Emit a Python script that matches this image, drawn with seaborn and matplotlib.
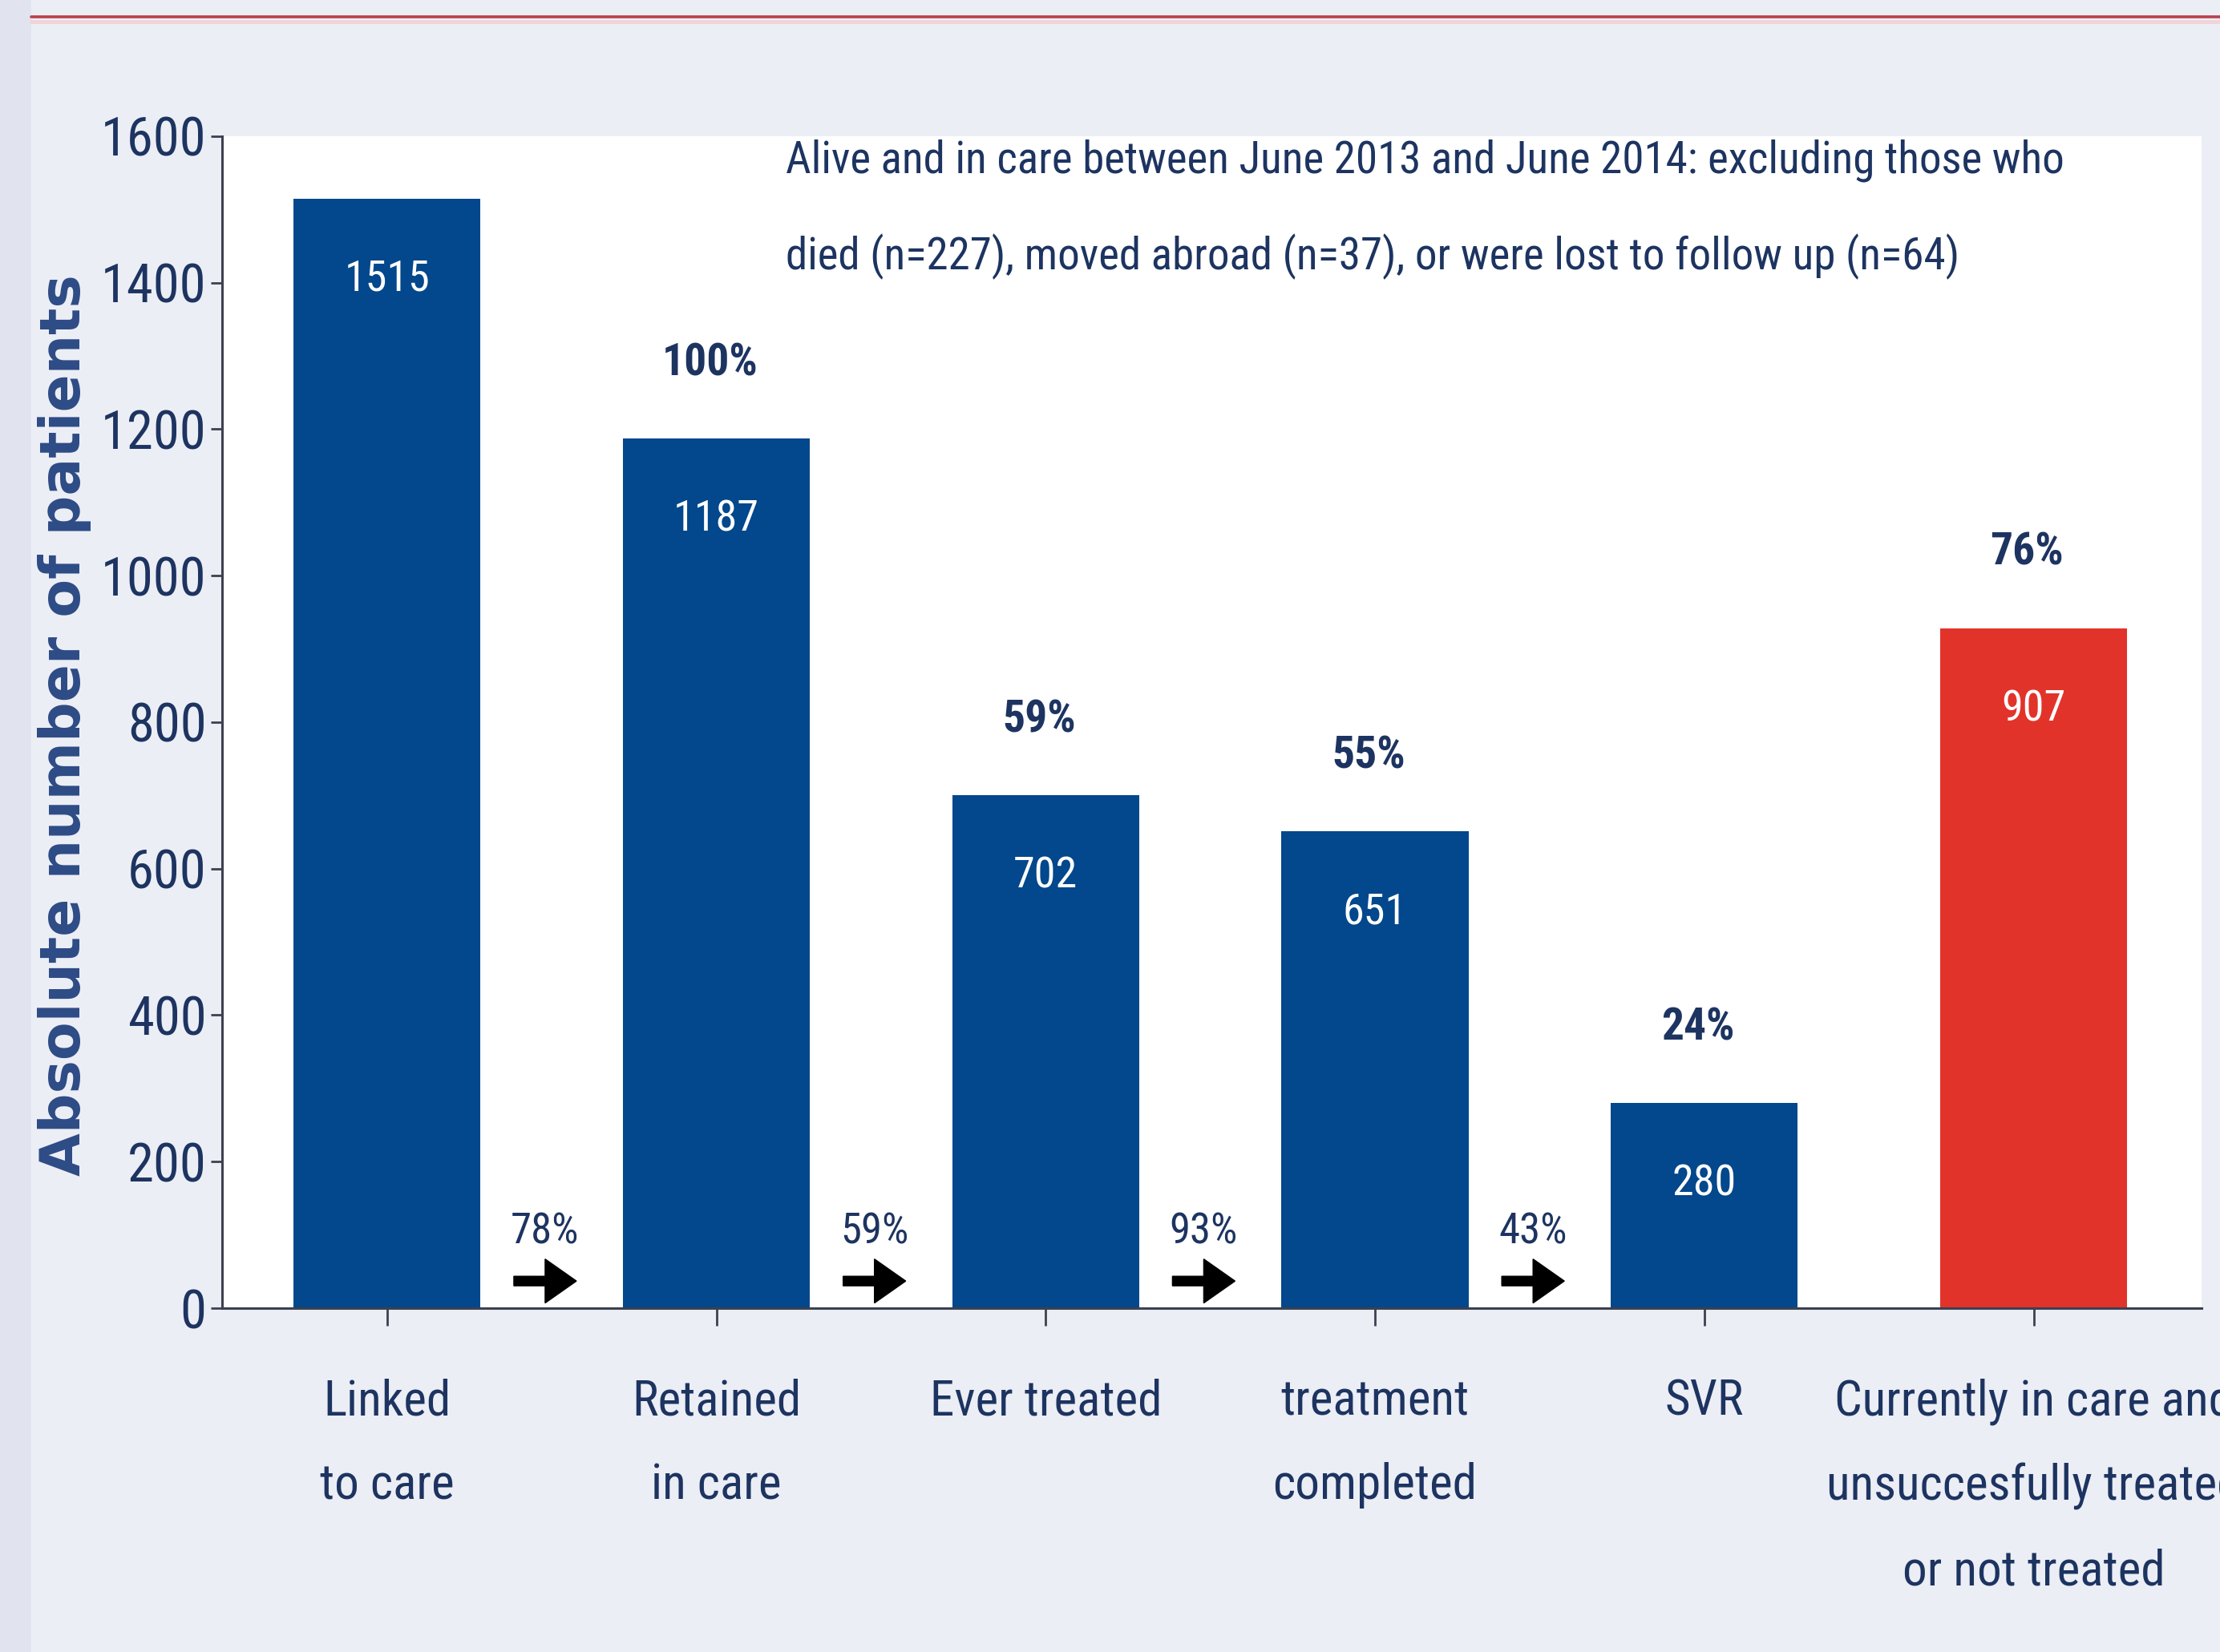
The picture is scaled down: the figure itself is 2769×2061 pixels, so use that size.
import numpy as np
import pandas as pd
import matplotlib
matplotlib.use("Agg")
import matplotlib.pyplot as plt
import seaborn as sns
from matplotlib import font_manager as fm
from matplotlib.patches import Rectangle
from matplotlib.lines import Line2D

# ---------------- data ----------------
categories = ["Linked\nto care", "Retained\nin care", "Ever treated",
              "treatment\ncompleted", "SVR",
              "Currently in care and\nunsuccesfully treated\nor not treated"]
bar_heights = [1515, 1187, 700, 651, 280, 928]
value_labels = ["1515", "1187", "702", "651", "280", "907"]
pct_above = ["", "100%", "59%", "55%", "24%", "76%"]
step_pcts = ["78%", "59%", "93%", "43%"]
yticks = [0, 200, 400, 600, 800, 1000, 1200, 1400, 1600]
note_lines = ["Alive and in care between June 2013 and June 2014: excluding those who",
              "died (n=227), moved abroad (n=37), or were lost to follow up (n=64)"]
bar_colors = ["#03478c", "#03478c", "#03478c", "#03478c", "#03478c", "#e2332b"]

# ---------------- style ----------------
sns.set_theme(style="white")
names = {f.name for f in fm.fontManager.ttflist}
narrow = next((n for n in ["Liberation Sans Narrow", "Roboto Condensed",
                           "Open Sans Condensed", "Liberation Sans"] if n in names), "DejaVu Sans")
k = 1.0 if "Narrow" in narrow or "Condensed" in narrow else 0.82
plt.rcParams["font.family"] = [narrow, "DejaVu Sans"]

NAVY = "#1d3461"
AXC = "#3c4150"
BG = "#eceef5"

fig = plt.figure(figsize=(27.69, 20.61), dpi=100, facecolor=BG)
fig.patches.append(Rectangle((0, 0), 39 / 2769, 1, transform=fig.transFigure,
                             facecolor="#e1e4ee", edgecolor="none", zorder=-1))
fig.lines.append(Line2D([39 / 2769, 1], [1 - 21 / 2061, 1 - 21 / 2061],
                        transform=fig.transFigure, color="#b8404c", lw=2.6))
fig.lines.append(Line2D([39 / 2769, 1], [1 - 27 / 2061, 1 - 27 / 2061],
                        transform=fig.transFigure, color="#f1d4d8", lw=3.5))

ax = fig.add_axes([0.10004, 0.20815, 0.89165, 0.70937])
ax.set_facecolor("white")

df = pd.DataFrame({"stage": categories, "patients": bar_heights})
sns.barplot(data=df, x="stage", y="patients", hue="stage", palette=bar_colors,
            dodge=False, legend=False, width=0.568, saturation=1,
            edgecolor="none", ax=ax)

ax.set_xlim(-0.501, 5.51)
ax.set_ylim(0, 1600)
ax.set_yticks(yticks)
ax.set_xlabel("")
ax.set_ylabel("")

for s in ["top", "right"]:
    ax.spines[s].set_visible(False)
for s in ["left", "bottom"]:
    ax.spines[s].set_color(AXC)
    ax.spines[s].set_linewidth(2.2)

ax.tick_params(axis="y", direction="out", length=10, width=2, color=AXC,
               labelcolor=NAVY, labelsize=48 * k, pad=4, left=True)
ax.tick_params(axis="x", direction="out", length=16, width=2, color=AXC,
               labelcolor=NAVY, labelsize=44 * k, pad=47, bottom=True)
for lab in ax.get_xticklabels():
    lab.set_linespacing(2.02)

# value labels inside bars
for i, (h, v) in enumerate(zip(bar_heights, value_labels)):
    ax.text(i, h - 110, v, ha="center", va="center", color="white",
            fontsize=39 * k)
# percentage labels above bars
for i, (h, p) in enumerate(zip(bar_heights, pct_above)):
    if p:
        ax.text(i - 0.02, h + 103, p, ha="center", va="center", color=NAVY,
                fontsize=40 * k, fontweight="bold")
# step arrows with conversion percentages
for i, p in enumerate(step_pcts):
    xc = i + 0.48
    ax.text(xc, 104, p, ha="center", va="center", color=NAVY,
            fontsize=38 * k)
    ax.arrow(xc - 0.095, 37, 0.19, 0, width=13, head_width=60,
             head_length=0.095, length_includes_head=True,
             color="black", zorder=5)

# note text
ax.text(1.21, 1567, note_lines[0], ha="left", va="center", color=NAVY,
        fontsize=39.6 * k)
ax.text(1.21, 1436, note_lines[1], ha="left", va="center", color=NAVY,
        fontsize=39.6 * k)

# y-axis label
fig.text(81 / 2769, 1 - 905 / 2061, "Absolute number of patients",
         rotation=90, ha="center", va="center", color="#2d4b85",
         fontsize=50, fontweight="bold", family="DejaVu Sans")

fig.savefig("out.png", dpi=100, facecolor=BG)
